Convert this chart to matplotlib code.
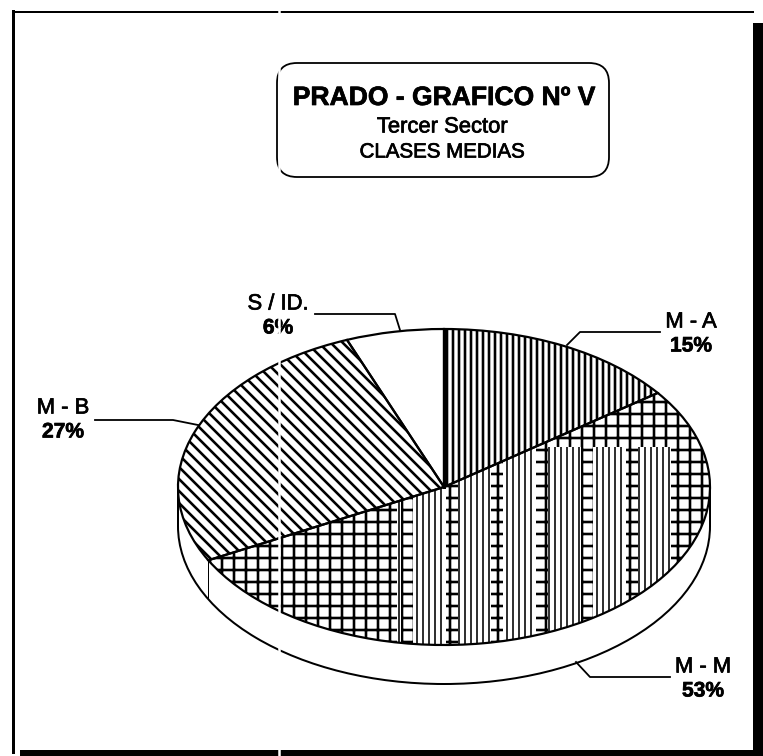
import numpy as np
import matplotlib
matplotlib.use('Agg')
import matplotlib.pyplot as plt
import matplotlib.patheffects as pe
from matplotlib.patches import Ellipse, FancyBboxPatch, Rectangle, Wedge

categories = ['M - A', 'M - M', 'M - B', 'S / ID.']
values = [15, 53, 27, 6]
hatches = ['||', '+', '\\\\', '']

title = 'PRADO - GRAFICO Nº V'
subtitle = 'Tercer Sector'
subtitle2 = 'CLASES MEDIAS'

plt.rcParams['font.family'] = ['Liberation Sans', 'DejaVu Sans']
plt.rcParams['hatch.linewidth'] = 2.6

W, H = 763, 756
fig = plt.figure(figsize=(W / 72, H / 72), dpi=72)

# pie geometry in pixels
cx, cy, a, b, drop = 444, 487, 266, 158, 39
ext = 1.4

ax = fig.add_axes([(cx - ext * a) / W, 1 - (cy + ext * b) / H, 2 * ext * a / W, 2 * ext * b / H])
wedges, _ = ax.pie(values, startangle=90, counterclock=False, radius=1,
                   wedgeprops=dict(facecolor='white', edgecolor='black', linewidth=0))
ax.set_aspect('auto')
ax.set_xlim(-ext, ext)
ax.set_ylim(-ext, ext)

for w, h in zip(wedges, hatches):
    w.set_hatch(h)

# side of the disc
d = drop / b
ax.add_patch(Ellipse((0, -d), 2, 2, fc='white', ec='black', lw=2, zorder=0))
ax.add_patch(Rectangle((-1, -d), 2, d, fc='white', ec='none', zorder=0.1))
ax.plot([-1, -1], [0, -d], color='black', lw=2, zorder=0.2)
ax.plot([1, 1], [0, -d], color='black', lw=2, zorder=0.2)
edge = wedges[1]
edge_x = np.cos(np.radians(edge.theta1))
edge_y = np.sin(np.radians(edge.theta1))
ax.plot([edge_x, edge_x], [edge_y, edge_y - d], color='black', lw=1, zorder=0.2)


def rx(x):
    return (x - cx) / a


def ry(y):
    return (cy - y) / b


# moire bands of the scan on the M - M slice, thinner lines than the other hatches
gaps = [(397, 4)] + [(x, 33) for x in np.arange(413, 660, 45)]
with plt.rc_context({'hatch.linewidth': 1.6}):
    for x0, wd in gaps:
        r = Rectangle((rx(x0), ry(660)), wd / a, (660 - 447) / b, fc='white', ec='black',
                      lw=0, hatch='||', zorder=3)
        ax.add_patch(r)
        r.set_clip_path(wedges[1])

for w in wedges:
    ax.add_patch(Wedge(w.center, w.r, w.theta1, w.theta2, fc='none', ec='black', lw=2.2, zorder=4))
ax.plot([0, 0], [0, 1], color='black', lw=3, zorder=5)

# overlay in pixel coordinates: frame, title box, leaders, labels
ov = fig.add_axes([0, 0, 1, 1], facecolor='none')
ov.set_xlim(0, W)
ov.set_ylim(H, 0)
ov.axis('off')

ov.plot([13, 13], [11, 752], color='black', lw=3)
ov.plot([15, 753], [12, 12], color='black', lw=2)
ov.add_patch(Rectangle((753, 23), 10, H - 23, fc='black', ec='none'))
ov.add_patch(Rectangle((20, 750), W - 20, 6, fc='black', ec='none'))

ov.add_patch(FancyBboxPatch((277, 63), 332, 114, boxstyle='round,pad=0,rounding_size=20',
                            fc='white', ec='black', lw=1.8))
thick = [pe.withStroke(linewidth=0.7, foreground='black')]
ov.text(444, 98, title, ha='center', va='center', fontsize=26.5, fontweight='bold', path_effects=thick)
ov.text(442, 127, subtitle, ha='center', va='center', fontsize=22, path_effects=thick)
ov.text(442, 152, subtitle2, ha='center', va='center', fontsize=20.5, path_effects=thick)

leaders = [([660, 580, 567], [332, 332, 345]),
           ([670, 590, 576], [677, 677, 662]),
           ([95, 173, 198], [420, 420, 425]),
           ([315, 395, 400], [314, 314, 330])]
label_pos = [(691, 322), (703, 667), (63, 408), (278, 304)]
pct_offset = 24

for cat, val, (xs, ys), (lx, ly) in zip(categories, values, leaders, label_pos):
    ov.plot(xs, ys, color='black', lw=1.8)
    ov.text(lx, ly, cat, ha='center', va='center', fontsize=22, path_effects=thick)
    ov.text(lx, ly + pct_offset, f'{val}%', ha='center', va='center', fontsize=21, fontweight='bold',
            path_effects=thick)

# white streak from the scanner
ov.plot([279, 279], [0, H], color='white', lw=2.5, zorder=10)

fig.savefig('out.png', dpi=72)
